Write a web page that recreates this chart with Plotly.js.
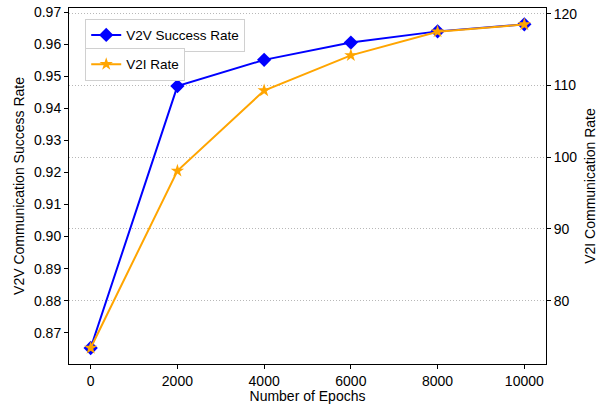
<!DOCTYPE html>
<html>
<head>
<meta charset="utf-8">
<script src="https://cdn.plot.ly/plotly-3.0.1.min.js"></script>
<style>html,body{margin:0;padding:0;background:#fff;}#chart{width:599px;height:404px;}</style>
</head>
<body>
<div id="chart"></div>
<script>
const epochs = [0, 2000, 4000, 6000, 8000, 10000];
const v2vSuccess = [0.8652, 0.9470, 0.9552, 0.9606, 0.9641, 0.9663];
const v2iRate = [73.4, 98.1, 109.3, 114.2, 117.5, 118.5];
const xTicks = [0, 2000, 4000, 6000, 8000, 10000];
const yTicks = [0.87, 0.88, 0.89, 0.90, 0.91, 0.92, 0.93, 0.94, 0.95, 0.96, 0.97];
const y2Ticks = [80, 90, 100, 110, 120];

const fam = 'Liberation Sans, Arial, sans-serif';
const font = {family: fam, size: 14, color: '#000'};

const traces = [
  {x: epochs, y: v2vSuccess, name: 'V2V Success Rate', mode: 'lines+markers',
   line: {color: '#0000ff', width: 2}, marker: {symbol: 'diamond', size: 11, color: '#0000ff'},
   yaxis: 'y', legend: 'legend'},
  {x: epochs, y: v2iRate, name: 'V2I Rate', mode: 'lines+markers',
   line: {color: '#ffa500', width: 2}, marker: {symbol: 'star', size: 10, color: '#ffa500'},
   yaxis: 'y2', legend: 'legend2'}
];

const axisBase = {showline: true, linecolor: '#000', linewidth: 1, ticks: 'outside', ticklen: 4,
  tickcolor: '#000', zeroline: false, tickfont: {family: fam, size: 14, color: '#000'}};

const layout = {
  width: 599, height: 404,
  margin: {l: 69, r: 53, t: 8, b: 40},
  paper_bgcolor: '#fff', plot_bgcolor: '#fff',
  font: font,
  showlegend: true,
  xaxis: Object.assign({}, axisBase, {range: [-500, 10500], tickvals: xTicks, ticktext: xTicks.map(String),
    showgrid: false, mirror: true,
    title: {text: 'Number of Epochs', font: {family: fam, size: 14}, standoff: 2}}),
  yaxis: Object.assign({}, axisBase, {range: [0.8602, 0.9714], tickvals: yTicks,
    ticktext: yTicks.map(v => v.toFixed(2)), showgrid: false,
    title: {text: 'V2V Communication Success Rate', font: {family: fam, size: 14}, standoff: 6}}),
  yaxis2: Object.assign({}, axisBase, {range: [71.17, 120.8], tickvals: y2Ticks, ticktext: y2Ticks.map(String),
    overlaying: 'y', side: 'right', showgrid: true, gridcolor: '#b8b8b8', griddash: '1px,2px', gridwidth: 1,
    title: {text: 'V2I Communication Rate', font: {family: fam, size: 14}, standoff: 8}}),
  legend: {x: 0.034, y: 0.97, xanchor: 'left', yanchor: 'top', bgcolor: '#fff',
    bordercolor: '#d0d0d0', borderwidth: 1, font: {family: fam, size: 13.5}},
  legend2: {x: 0.034, y: 0.888, xanchor: 'left', yanchor: 'top', bgcolor: '#fff',
    bordercolor: '#d0d0d0', borderwidth: 1, font: {family: fam, size: 13.5}}
};

Plotly.newPlot('chart', traces, layout, {displayModeBar: false, staticPlot: true});
</script>
</body>
</html>
